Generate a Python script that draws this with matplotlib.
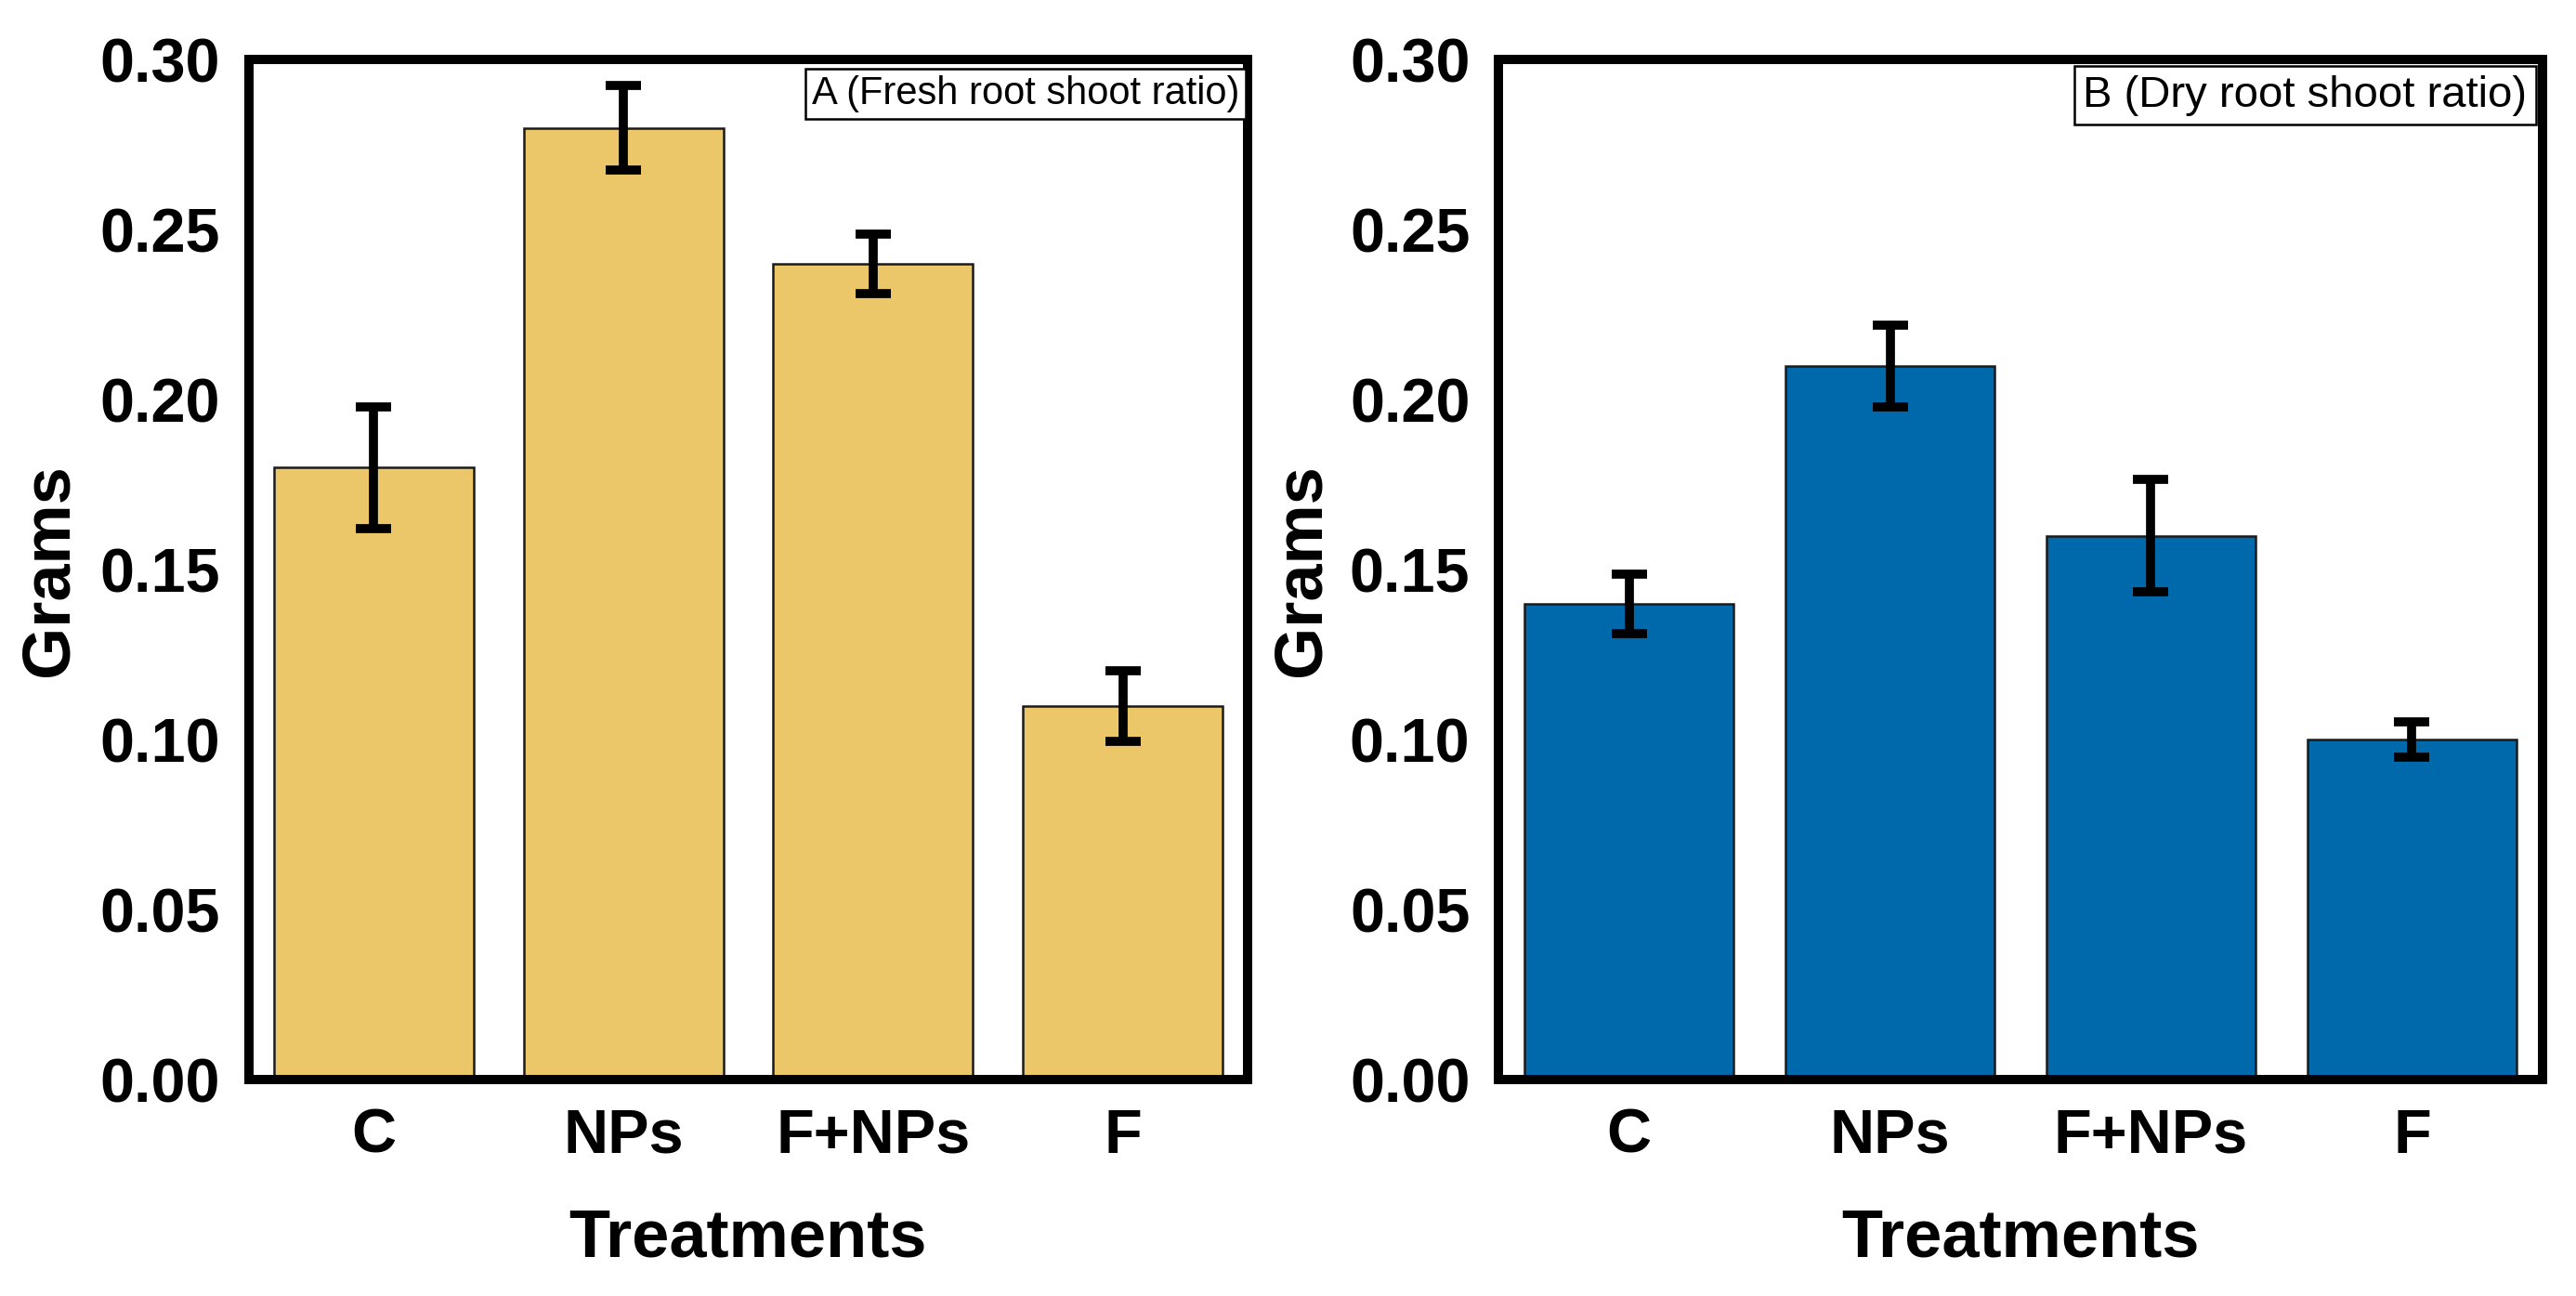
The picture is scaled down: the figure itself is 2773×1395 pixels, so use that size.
import matplotlib
matplotlib.use("Agg")
import matplotlib.pyplot as plt

plt.rcParams['font.family'] = ['Liberation Sans', 'DejaVu Sans']

treatments = ["C", "NPs", "F+NPs", "F"]

fresh_ratio = [0.18, 0.28, 0.24, 0.11]
fresh_err = [0.018, 0.0125, 0.0087, 0.0104]

dry_ratio = [0.14, 0.21, 0.16, 0.10]
dry_err = [0.0087, 0.012, 0.0165, 0.0052]

yticks = [0.00, 0.05, 0.10, 0.15, 0.20, 0.25, 0.30]

fig = plt.figure(figsize=(27.73, 13.95), dpi=100)
ax1 = fig.add_axes([0.0966, 0.167, 0.3877, 0.7868])
ax2 = fig.add_axes([0.5817, 0.167, 0.4053, 0.7868])


def draw_panel(ax, values, errs, color, tag, tag_size, tag_x, tag_pad, label_x):
    x = range(len(treatments))
    ax.bar(x, values, width=0.8, color=color, edgecolor="#1a1a1a",
           linewidth=1.8, zorder=2)
    ax.errorbar(x, values, yerr=errs, fmt="none", ecolor="black",
                elinewidth=7, capsize=13.5, capthick=7, zorder=3)
    ax.set_xlim(-0.5, 3.5)
    ax.set_ylim(0, 0.30)
    ax.set_xticks(list(x))
    ax.set_xticklabels(treatments)
    ax.set_yticks(yticks)
    ax.set_yticklabels(["%.2f" % t for t in yticks])
    ax.tick_params(axis="both", length=0, labelsize=48, pad=22)
    for lbl in ax.get_xticklabels() + ax.get_yticklabels():
        lbl.set_fontweight("bold")
    for sp in ax.spines.values():
        sp.set_linewidth(7.2)
        sp.set_color("black")
        sp.set_zorder(4)
    ax.set_ylabel("Grams", fontsize=52, fontweight="bold")
    ax.set_xlabel("Treatments", fontsize=52, fontweight="bold")
    ax.yaxis.set_label_coords(label_x, 0.5)
    ax.xaxis.set_label_coords(0.5, -0.125)
    # panel tag in a small boxed label, top right
    ax.text(tag_x, 0.985, tag, transform=ax.transAxes, ha="right", va="top",
            fontsize=tag_size, zorder=5,
            bbox=dict(boxstyle="square,pad=%.2f" % tag_pad, facecolor="white",
                      edgecolor="black", linewidth=1.8))


draw_panel(ax1, fresh_ratio, fresh_err, "#ECC76A",
           "A (Fresh root shoot ratio)", 30, 0.992, 0.16, -0.168)
draw_panel(ax2, dry_ratio, dry_err, "#0069AB",
           "B (Dry root shoot ratio)", 34, 0.985, 0.2, -0.158)

fig.savefig("out.png", dpi=100)
